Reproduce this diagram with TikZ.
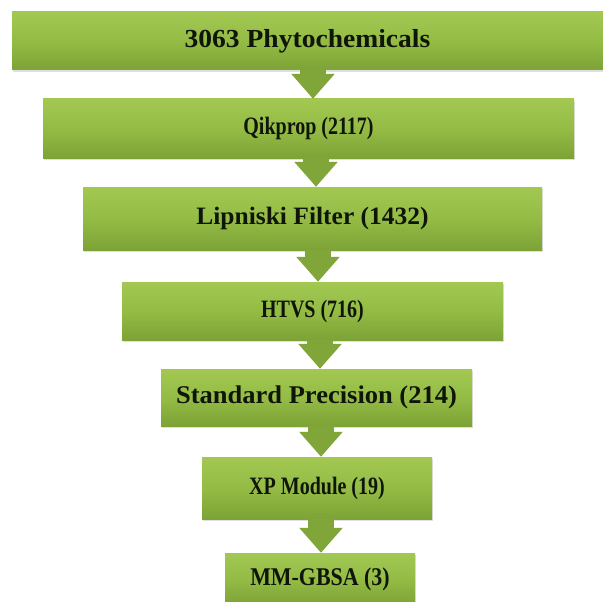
\documentclass[tikz,border=0pt]{standalone}
\usepackage{fontspec}
\setmainfont{Liberation Serif}
\usetikzlibrary{arrows.meta,shadows}
\definecolor{boxtop}{HTML}{A2C852}
\definecolor{boxmid}{HTML}{94BC45}
\definecolor{boxbot}{HTML}{7DA236}
\definecolor{arrowcol}{HTML}{80A63A}
\definecolor{txt}{HTML}{10150A}
\newcommand{\lbl}[3]{\scalebox{#2}[1]{\fontsize{#1}{#1}\selectfont #3}}
\tikzset{
  stagebox/.style={rectangle, inner sep=0pt, top color=boxtop, bottom color=boxbot, middle color=boxmid,
    draw=none, drop shadow={opacity=0.25, shadow xshift=1pt, shadow yshift=-2pt},
    font=\bfseries, text=txt},
  flowarrow/.style={draw=arrowcol, line width=26pt, -{Triangle[width=42pt,length=25pt]}}
}
\begin{document}
\begin{tikzpicture}[x=1pt,y=-1pt]
\useasboundingbox (0,0) rectangle (603,602);
\fill[white] (0,0) rectangle (603,602);
\node[stagebox, minimum width=591pt, minimum height=58pt] (b1) at (307.5,41) {\raisebox{-3pt}{\lbl{26}{1.06}{3063 Phytochemicals}}};
\node[stagebox, minimum width=531pt, minimum height=59pt] (b2) at (308.5,128.5) {\raisebox{-1pt}{\lbl{25}{0.8}{Qikprop (2117)}}};
\node[stagebox, minimum width=459pt, minimum height=63pt] (b3) at (312.5,218.5) {\lbl{25}{1.02}{Lipniski Filter (1432)}};
\node[stagebox, minimum width=381pt, minimum height=58pt] (b4) at (312.5,311) {\lbl{25}{0.8}{HTVS (716)}};
\node[stagebox, minimum width=311pt, minimum height=57pt] (b5) at (316.5,397.5) {\lbl{25.5}{1.04}{Standard Precision (214)}};
\node[stagebox, minimum width=230pt, minimum height=62pt] (b6) at (317,488) {\lbl{25}{0.8}{XP Module (19)}};
\node[stagebox, minimum width=190pt, minimum height=52pt] (b7) at (320,579) {\lbl{25.5}{0.86}{MM-GBSA (3)}};
\draw[flowarrow] ([xshift=5.5pt]b1.south) -- ([xshift=4.5pt]b2.north);
\draw[flowarrow] ([xshift=7.5pt]b2.south) -- ([xshift=3.5pt]b3.north);
\draw[flowarrow] ([xshift=5.5pt]b3.south) -- ([xshift=5.5pt]b4.north);
\draw[flowarrow] ([xshift=7.5pt]b4.south) -- ([xshift=3.5pt]b5.north);
\draw[flowarrow] ([xshift=4.5pt]b5.south) -- ([xshift=4pt]b6.north);
\draw[flowarrow] ([xshift=4pt]b6.south) -- ([xshift=1pt]b7.north);
\end{tikzpicture}
\end{document}
